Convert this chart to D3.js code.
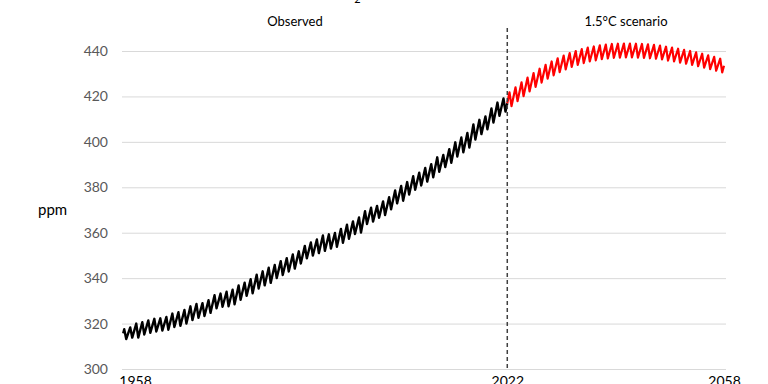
<!DOCTYPE html>
<html>
<head>
<meta charset="utf-8">
<script src="https://cdn.jsdelivr.net/npm/d3@7"></script>
<style>
  body { margin: 0; background: #fff; }
  svg { font-family: Lato, "Open Sans", sans-serif; }
</style>
</head>
<body>
<div id="chart"></div>
<script>
// Mauna Loa monthly CO2 (ppm): May peaks and September troughs, 1958-2021
const obsYears = d3.range(1958, 2022)
const obsFirst = 315.7   // March 1958
const obsLast = 417.0    // January 2022
const obsMay = [317.5, 318.3, 320.0, 320.6, 321.4, 322.1, 322.3, 322.9, 324.4, 325.0,
                326.0, 327.6, 328.6, 329.0, 330.3, 332.5, 333.2, 334.0, 334.9, 336.8,
                338.0, 339.5, 341.5, 343.0, 344.6, 345.8, 347.5, 348.8, 350.4, 351.8,
                354.2, 355.7, 357.0, 358.8, 359.3, 359.9, 361.7, 363.5, 365.0, 366.7,
                369.5, 371.0, 371.8, 373.8, 375.6, 378.6, 380.6, 382.3, 384.9, 386.4,
                388.5, 390.2, 393.2, 394.2, 396.8, 399.8, 401.9, 403.9, 407.7, 409.7,
                411.2, 414.7, 417.3, 419.1]
const obsSep = [313.2, 313.8, 313.8, 315.2, 315.9, 316.5, 316.9, 317.3, 318.5, 319.0,
                320.0, 321.5, 322.5, 323.3, 324.7, 326.7, 327.4, 327.6, 328.5, 330.5,
                332.2, 333.3, 335.4, 336.8, 337.9, 340.0, 341.4, 342.9, 344.2, 346.4,
                348.7, 349.9, 351.0, 352.0, 353.0, 353.8, 355.6, 357.3, 359.4, 360.1,
                363.8, 364.9, 366.6, 367.8, 370.3, 372.9, 374.1, 376.8, 378.9, 380.8,
                382.5, 384.4, 386.8, 388.9, 390.8, 393.5, 395.4, 397.5, 401.0, 403.4,
                405.5, 408.5, 411.5, 413.3]

// 1.5°C scenario, 2022-2057 plus end point 2058
const scenYears = d3.range(2022, 2058)
const scenMay = [421.8, 424.0, 426.2, 428.3, 430.3, 432.2, 433.9, 435.4, 436.8, 438.0,
                 439.1, 440.0, 440.8, 441.5, 442.0, 442.5, 442.8, 443.1, 443.2, 443.3,
                 443.3, 443.2, 443.1, 442.9, 442.7, 442.4, 441.9, 441.5, 441.0, 440.5,
                 440.0, 439.4, 438.8, 438.1, 437.4, 436.6]
const scenSep = [415.7, 417.9, 420.1, 422.2, 424.2, 426.1, 427.8, 429.3, 430.7, 431.9,
                 433.0, 433.9, 434.7, 435.4, 435.9, 436.4, 436.7, 437.0, 437.1, 437.2,
                 437.2, 437.1, 437.0, 436.8, 436.6, 436.3, 435.8, 435.4, 434.9, 434.4,
                 433.9, 433.3, 432.7, 432.0, 431.3, 430.6]
const scenLast = 433.5

const yTicks = [300, 320, 340, 360, 380, 400, 420, 440]
const xTicks = [1958, 2022, 2058]

var width = 768,
    height = 384

var svg = d3.select("#chart").append("svg")
    .attr("width", width)
    .attr("height", height)

const x = d3.scaleLinear().domain([1958, 2058]).range([122, 724])
const y = d3.scaleLinear().domain([300, 440]).range([369, 51])

// gridlines
svg.append("g")
    .attr("transform", "translate(122,0)")
    .call(d3.axisLeft(y).tickValues(yTicks).tickSize(-604).tickFormat(""))
    .call(g => g.select(".domain").remove())
    .selectAll("line").attr("stroke", "#d9d9d9")

// y labels
svg.append("g")
    .attr("transform", "translate(122,0)")
    .call(d3.axisLeft(y).tickValues(yTicks).tickSize(0).tickPadding(14))
    .call(g => g.select(".domain").remove())
    .selectAll("text")
    .attr("fill", "#595959")
    .style("font-size", "14px")
    .style("font-family", "Lato, sans-serif")

// x labels (cut by the bottom edge, as in the source)
svg.append("g")
    .attr("transform", "translate(0,369)")
    .call(d3.axisBottom(x).tickValues(xTicks).tickSize(0).tickPadding(7).tickFormat(d3.format("d")))
    .call(g => g.select(".domain").remove())
    .selectAll("text")
    .attr("fill", "#000")
    .attr("dx", (d, i) => i == 0 ? 13 : 0)
    .style("font-size", "14px")
    .style("font-family", "Lato, sans-serif")

// build series points
var obsPts = [[1958.2, obsFirst]]
obsYears.forEach(function(yr, i) {
    obsPts.push([yr + 0.37, obsMay[i]])
    obsPts.push([yr + 0.70, obsSep[i]])
})
obsPts.push([2022, obsLast])

var scenPts = [[2022, obsLast]]
scenYears.forEach(function(yr, i) {
    scenPts.push([yr + 0.37, scenMay[i]])
    scenPts.push([yr + 0.70, scenSep[i]])
})
scenPts.push([2058, scenLast])

var line = d3.line()
    .x(d => x(d[0]))
    .y(d => y(d[1]))

svg.append("path")
    .datum(obsPts)
    .attr("d", line)
    .attr("fill", "none")
    .attr("stroke", "#000")
    .attr("stroke-width", 2.4)
    .attr("stroke-linejoin", "round")

svg.append("path")
    .datum(scenPts)
    .attr("d", line)
    .attr("fill", "none")
    .attr("stroke", "#ff0000")
    .attr("stroke-width", 2.2)
    .attr("stroke-linejoin", "round")

// divider at 2022
svg.append("line")
    .attr("x1", x(2022)).attr("x2", x(2022))
    .attr("y1", 28).attr("y2", 369)
    .attr("stroke", "#404040")
    .attr("stroke-width", 1.5)
    .attr("stroke-dasharray", "4,3")

// labels
svg.append("text")
    .attr("x", 38).attr("y", y(370))
    .attr("dy", "0.35em")
    .style("font-size", "15px")
    .text("ppm")

svg.append("text")
    .attr("x", 295).attr("y", 21)
    .attr("dy", "0.35em")
    .attr("text-anchor", "middle")
    .style("font-size", "13px")
    .text("Observed")

svg.append("text")
    .attr("x", 626).attr("y", 21)
    .attr("dy", "0.35em")
    .attr("text-anchor", "middle")
    .style("font-size", "13px")
    .text("1.5°C scenario")

// title, mostly above the top edge
var title = svg.append("text")
    .attr("x", 331).attr("y", 0)
    .style("font-size", "16px")
title.append("tspan").text("CO")
title.append("tspan").attr("dy", "0.3em").style("font-size", "11px").text("2")
title.append("tspan").attr("dy", "-0.3em").text(" concentration at Mauna Loa")
</script>
</body>
</html>
